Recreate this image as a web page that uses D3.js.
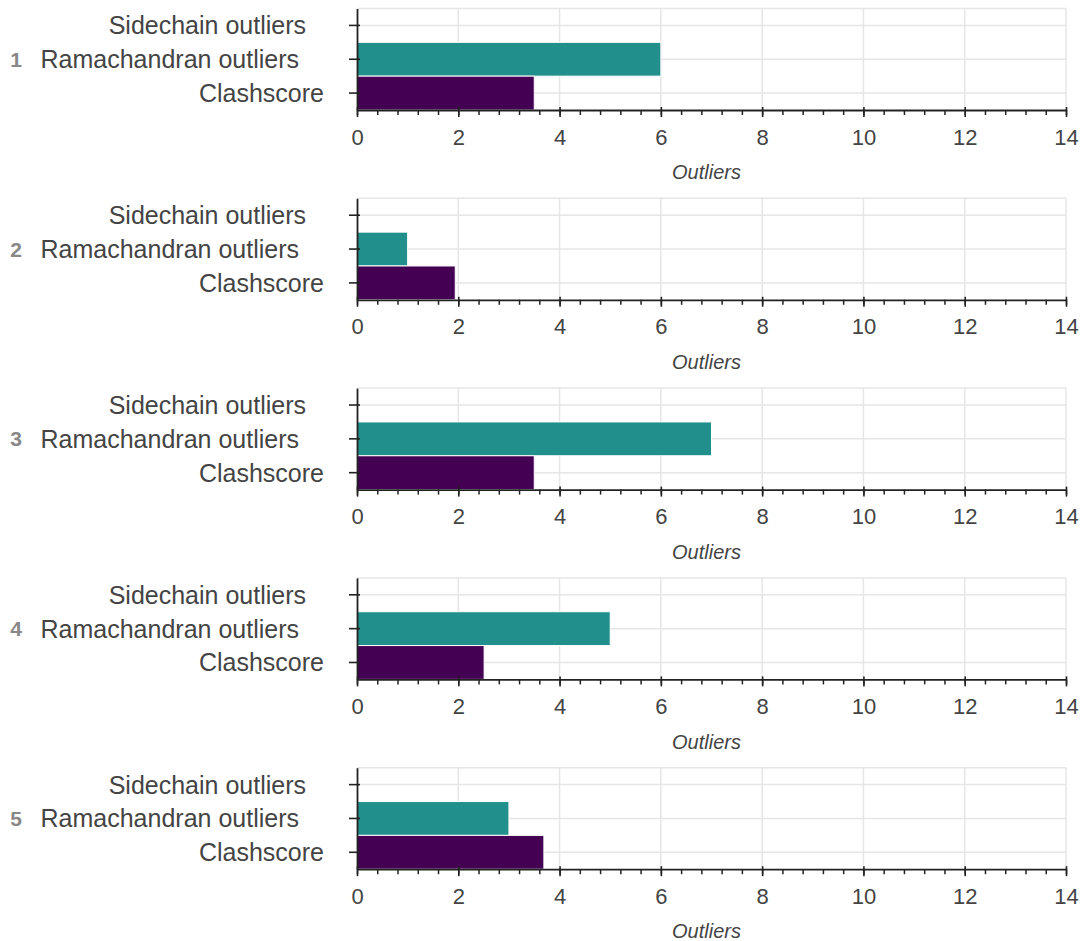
<!DOCTYPE html>
<html>
<head>
<meta charset="utf-8">
<script src="https://cdn.jsdelivr.net/npm/d3@7"></script>
<style>
  body { margin: 0; background: #fff; }
  text { font-family: "Liberation Sans", Arial, sans-serif; }
</style>
</head>
<body>
<div id="chart"></div>
<script>
// data
const panels = ["1", "2", "3", "4", "5"];
const categories = ["Sidechain outliers", "Ramachandran outliers", "Clashscore"];
const sidechain = [0, 0, 0, 0, 0];
const ramachandran = [6, 1, 7, 5, 3];
const clashscore = [3.5, 1.94, 3.5, 2.51, 3.69];
const xTicks = [0, 2, 4, 6, 8, 10, 12, 14];
const xTitle = "Outliers";

const colors = {
    "Sidechain outliers": "#fde725",
    "Ramachandran outliers": "#21908d",
    "Clashscore": "#440154"
};
// label nudges (the labels in the original are not flush right)
const labelShift = {
    "Sidechain outliers": -18,
    "Ramachandran outliers": -25,
    "Clashscore": 0
};

const W = 1080, H = 941;
const left = 357, right = 1066;
const panelStep = 189.8, plotTop = 8.5, plotH = 101.5;

const svg = d3.select("#chart").append("svg")
    .attr("width", W)
    .attr("height", H);

const x = d3.scaleLinear().domain([0, 14]).range([left, right]);
const minorTicks = d3.range(0, 36).map(i => i * 0.4);

panels.forEach((p, i) => {
    const rows = [
        {cat: categories[0], value: sidechain[i]},
        {cat: categories[1], value: ramachandran[i]},
        {cat: categories[2], value: clashscore[i]}
    ];
    const top = plotTop + i * panelStep;
    const bottom = top + plotH;

    const y = d3.scaleBand()
        .domain(categories)
        .range([top, bottom])
        .padding(0);

    const g = svg.append("g");

    // grid
    g.append("g").selectAll("line.vg")
        .data(xTicks.slice(1))
        .join("line")
        .attr("x1", d => x(d)).attr("x2", d => x(d))
        .attr("y1", top).attr("y2", bottom)
        .attr("stroke", "#e6e6e6").attr("stroke-width", 1.5);
    g.append("g").selectAll("line.hg")
        .data(categories)
        .join("line")
        .attr("x1", left).attr("x2", right)
        .attr("y1", d => y(d) + y.bandwidth() / 2)
        .attr("y2", d => y(d) + y.bandwidth() / 2)
        .attr("stroke", "#e6e6e6").attr("stroke-width", 1.5);
    g.append("line")
        .attr("x1", left).attr("x2", right)
        .attr("y1", top).attr("y2", top)
        .attr("stroke", "#e6e6e6").attr("stroke-width", 1.5);

    // bars
    g.append("g").selectAll("rect")
        .data(rows)
        .join("rect")
        .attr("x", x(0))
        .attr("y", d => y(d.cat))
        .attr("width", d => x(d.value) - x(0))
        .attr("height", y.bandwidth())
        .attr("fill", d => colors[d.cat])
        .attr("stroke", "#fff")
        .attr("stroke-width", 1);

    // x axis: minor ticks
    g.append("g")
        .attr("transform", `translate(0, ${bottom})`)
        .call(d3.axisBottom(x).tickValues(minorTicks).tickSize(5).tickSizeOuter(0).tickFormat(""))
        .call(a => a.select(".domain").remove())
        .selectAll("line").attr("stroke", "#222").attr("stroke-width", 1.5);

    // x axis: major ticks + labels
    const xa = g.append("g")
        .attr("transform", `translate(0, ${bottom})`)
        .call(d3.axisBottom(x).tickValues(xTicks).tickSize(7).tickSizeOuter(0).tickPadding(12));
    xa.select(".domain").attr("stroke", "#222").attr("stroke-width", 1.8);
    xa.selectAll(".tick line").attr("y1", -3).attr("stroke", "#222").attr("stroke-width", 1.6);
    xa.selectAll(".tick text")
        .attr("fill", "#444")
        .style("font-size", "22px")
        .style("font-family", "'Liberation Sans', Arial, sans-serif");

    // x title
    g.append("text")
        .attr("x", (left + right) / 2 - 5)
        .attr("y", bottom + 64)
        .attr("text-anchor", "middle")
        .attr("dominant-baseline", "middle")
        .style("font-size", "20px")
        .style("font-style", "italic")
        .attr("fill", "#444")
        .text(xTitle);

    // y axis
    const ya = g.append("g")
        .attr("transform", `translate(${left}, 0)`)
        .call(d3.axisLeft(y).tickSize(8).tickSizeOuter(0).tickFormat(""));
    ya.select(".domain").attr("stroke", "#222").attr("stroke-width", 1.8);
    ya.selectAll(".tick line").attr("x1", 3).attr("stroke", "#222").attr("stroke-width", 1.6);

    // category labels
    g.append("g").selectAll("text")
        .data(categories)
        .join("text")
        .attr("x", d => 324 + labelShift[d])
        .attr("y", d => y(d) + y.bandwidth() / 2)
        .attr("text-anchor", "end")
        .attr("dominant-baseline", "central")
        .attr("fill", "#444")
        .style("font-size", "25px")
        .text(d => d);

    // panel number
    g.append("text")
        .attr("x", 16)
        .attr("y", y(categories[1]) + y.bandwidth() / 2)
        .attr("text-anchor", "middle")
        .attr("dominant-baseline", "central")
        .attr("fill", "#888")
        .style("font-size", "21px")
        .style("font-weight", "bold")
        .text(p);
});
</script>
</body>
</html>
